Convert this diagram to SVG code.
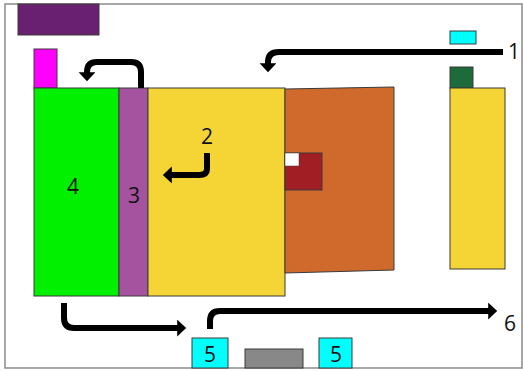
<svg xmlns="http://www.w3.org/2000/svg" width="523" height="371" viewBox="0 0 523 371">
<defs>
<style>
.box{stroke:#3a3a3a;stroke-width:1}
.arr{fill:none;stroke:#000;stroke-width:6;stroke-linejoin:round}
.lbl{font-family:"Open Sans","Liberation Sans",sans-serif;font-size:21px;fill:#111;text-anchor:middle}
</style>
<marker id="ah" markerWidth="2" markerHeight="3" refX="0.3" refY="1.4" orient="auto" markerUnits="strokeWidth">
<path d="M0,0 L1.5,1.4 L0,2.8 Z" fill="#000"/>
</marker>
</defs>
<rect x="5" y="4" width="517" height="364" fill="#fff" stroke="#8a8a8a" stroke-width="1.5"/>
<g id="purple-top"><rect class="box" x="18" y="4" width="81" height="31" fill="#6A2070"/></g>
<g id="magenta"><rect class="box" x="34" y="49" width="23" height="39" fill="#FF00FF"/></g>
<g id="node4"><rect class="box" x="34" y="88" width="85" height="208" fill="#00F000"/><text class="lbl" x="73" y="194">4</text></g>
<g id="node3"><rect class="box" x="119" y="88" width="29" height="208" fill="#A5529F"/><text class="lbl" x="134" y="203">3</text></g>
<g id="yellow-main"><rect class="box" x="148" y="88" width="137" height="208" fill="#F5D535"/></g>
<g id="orange"><polygon class="box" points="285,89 394,87 394,270 285,273" fill="#D06A2C"/></g>
<g id="darkred"><rect class="box" x="285" y="153" width="37" height="37" fill="#A01E24"/><rect x="285" y="153" width="14" height="13" fill="#fff" stroke="#3a3a3a" stroke-width="0.5"/></g>
<g id="cyan-small"><rect class="box" x="450" y="31" width="26" height="13" fill="#00FFFF"/></g>
<g id="darkgreen"><rect class="box" x="450" y="67" width="23" height="21" fill="#1D6B3A"/></g>
<g id="yellow-right"><rect class="box" x="450" y="88" width="55" height="181" fill="#F5D535"/></g>
<g id="node5a"><rect class="box" x="192" y="338" width="36" height="30" fill="#00FFFF"/><text class="lbl" x="210" y="362">5</text></g>
<g id="grey"><rect class="box" x="245" y="349" width="58" height="19" fill="#888888"/></g>
<g id="node5b"><rect class="box" x="319" y="338" width="33" height="30" fill="#00FFFF"/><text class="lbl" x="336" y="362">5</text></g>
<g id="connectors">
<path class="arr" d="M503,52 H279 Q268,52 268,62 V65" marker-end="url(#ah)"/>
<path class="arr" d="M141,88 V72 Q141,62 131,62 H97 Q87,62 87,72 V74" marker-end="url(#ah)"/>
<path class="arr" d="M207,153 V169 Q207,175 199,175 H170" marker-end="url(#ah)"/>
<path class="arr" d="M64,303 V318 Q64,328 74,328 H179" marker-end="url(#ah)"/>
<path class="arr" d="M210,329 V321 Q210,311 220,311 H490" marker-end="url(#ah)"/>
</g>
<g id="labels">
<text class="lbl" x="514" y="59">1</text>
<text class="lbl" x="207" y="144">2</text>
<text class="lbl" x="510" y="331">6</text>
</g>
</svg>
